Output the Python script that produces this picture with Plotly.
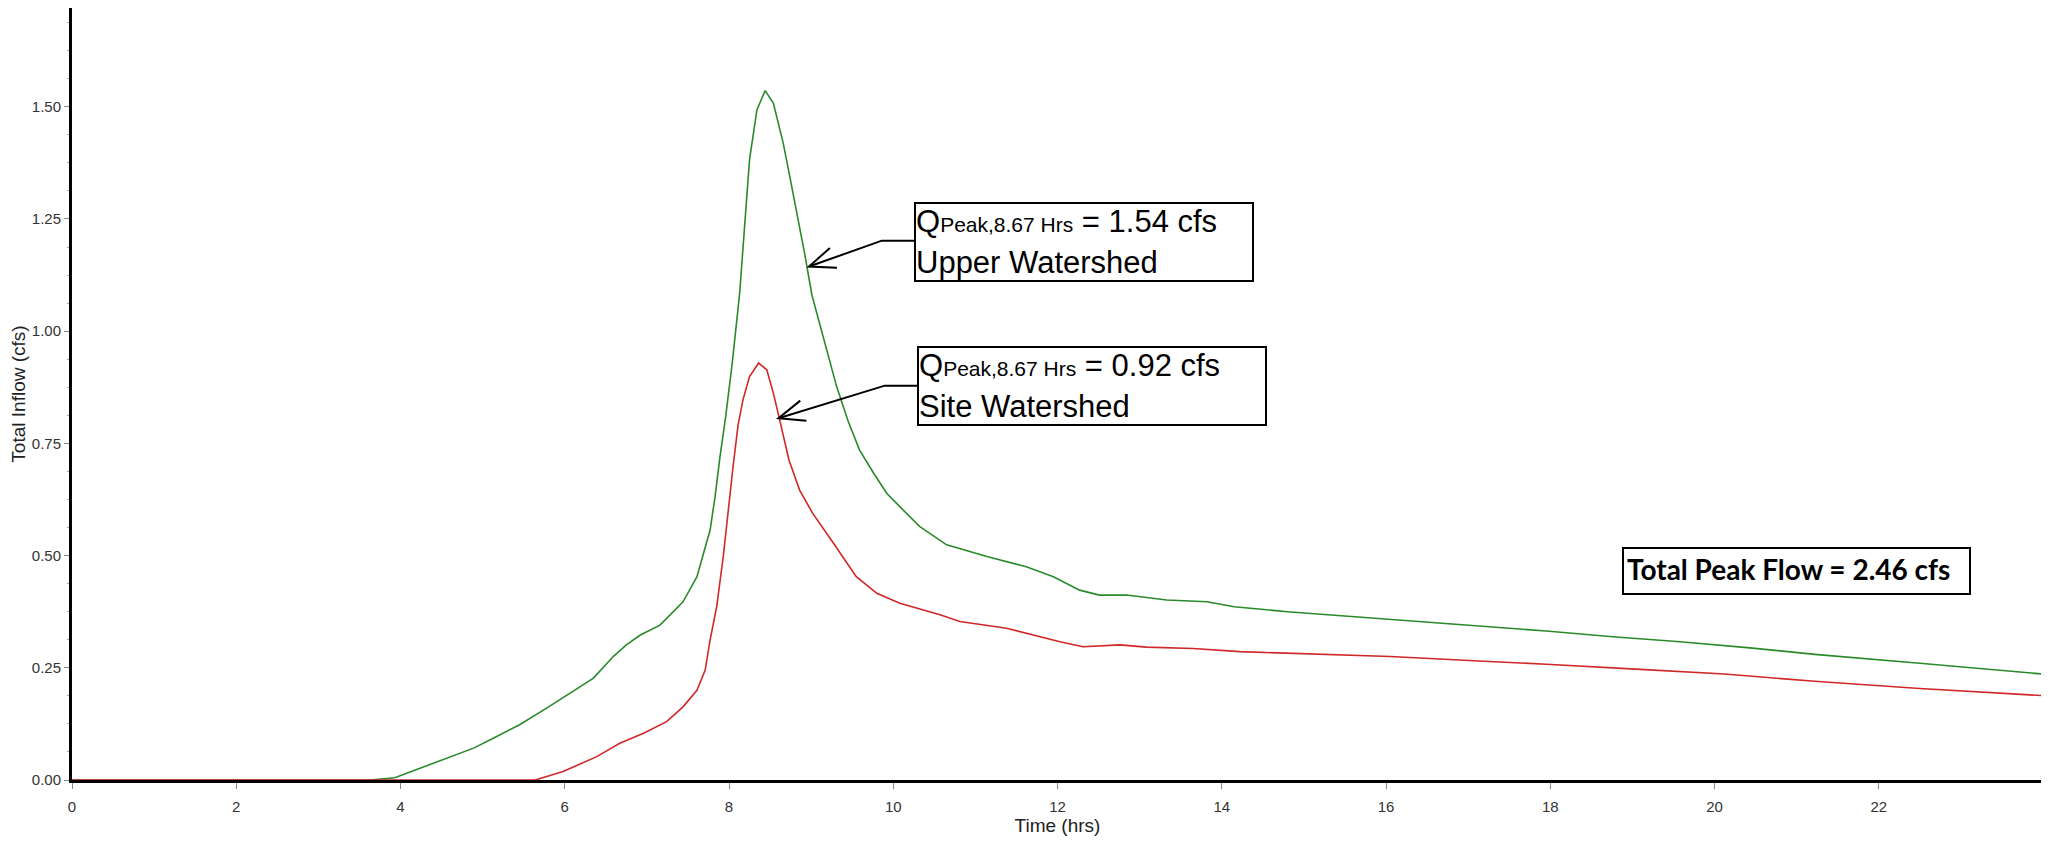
import math
import plotly.graph_objects as go

# ---------------- data ----------------
upper_time = [0.00, 3.63, 3.93, 4.24, 4.56, 4.89, 5.13, 5.45, 5.78, 6.06, 6.35, 6.59, 6.75, 6.92,
              7.16, 7.44, 7.61, 7.69, 7.77, 7.83, 7.89, 7.96, 8.04, 8.13, 8.19, 8.25, 8.34, 8.44,
              8.54, 8.66, 8.74, 8.82, 8.92, 9.01, 9.15, 9.31, 9.45, 9.59, 9.76, 9.92, 10.08, 10.32,
              10.65, 11.14, 11.62, 11.95, 12.27, 12.51, 12.84, 13.33, 13.82, 14.15, 14.80, 15.56,
              16.32, 17.13, 17.95, 18.76, 19.58, 20.40, 21.22, 22.50, 24.00]
upper_flow = [0.000, 0.000, 0.005, 0.026, 0.048, 0.071, 0.093, 0.123, 0.160, 0.193, 0.227, 0.275,
              0.301, 0.323, 0.345, 0.397, 0.453, 0.505, 0.557, 0.631, 0.720, 0.810, 0.930, 1.085,
              1.233, 1.382, 1.493, 1.536, 1.508, 1.419, 1.345, 1.270, 1.174, 1.080, 0.985, 0.877,
              0.800, 0.735, 0.684, 0.639, 0.609, 0.565, 0.524, 0.498, 0.475, 0.453, 0.423, 0.412,
              0.412, 0.401, 0.397, 0.386, 0.375, 0.365, 0.355, 0.343, 0.332, 0.319, 0.308, 0.295,
              0.280, 0.260, 0.236]

site_time = [0.00, 5.64, 5.98, 6.39, 6.67, 6.96, 7.24, 7.44, 7.61, 7.71, 7.77, 7.85, 7.93, 7.99,
             8.05, 8.11, 8.17, 8.25, 8.36, 8.46, 8.54, 8.62, 8.73, 8.86, 9.02, 9.27, 9.55, 9.80,
             10.08, 10.57, 10.81, 11.38, 12.03, 12.31, 12.76, 13.08, 13.65, 14.22, 14.96, 16.05,
             17.13, 17.95, 19.04, 20.12, 21.22, 22.50, 24.00]
site_flow = [0.000, 0.000, 0.019, 0.052, 0.082, 0.104, 0.130, 0.163, 0.200, 0.245, 0.312, 0.386,
             0.498, 0.602, 0.699, 0.790, 0.847, 0.899, 0.929, 0.914, 0.862, 0.800, 0.713, 0.646,
             0.594, 0.528, 0.453, 0.416, 0.394, 0.368, 0.353, 0.338, 0.308, 0.297, 0.301, 0.296,
             0.293, 0.286, 0.282, 0.275, 0.265, 0.258, 0.247, 0.236, 0.220, 0.204, 0.188]

x_ticks = [0, 2, 4, 6, 8, 10, 12, 14, 16, 18, 20, 22]
y_ticks = [0.00, 0.25, 0.50, 0.75, 1.00, 1.25, 1.50]

upper_label = "Q<span style='font-size:21px'>Peak,8.67 Hrs</span> = 1.54 cfs<br>Upper Watershed"
site_label = "Q<span style='font-size:21px'>Peak,8.67 Hrs</span> = 0.92 cfs<br>Site Watershed"
total_label = "<b>Total Peak Flow = 2.46 cfs</b>"

# ---------------- geometry ----------------
FIG_W, FIG_H = 2041, 838
M_L, M_R, M_T, M_B = 64, 6, 0, 66
X_MAX, Y_MAX = 24, 1.720
PXH = (FIG_W - M_L - M_R) / X_MAX
PXC = (FIG_H - M_T - M_B) / Y_MAX

TXT = "Liberation Sans, Arial, sans-serif"
fig = go.Figure()
fig.add_trace(go.Scatter(x=upper_time, y=upper_flow, mode="lines", name="Upper Watershed",
                         line=dict(color="#2a8a2a", width=1.6)))
fig.add_trace(go.Scatter(x=site_time, y=site_flow, mode="lines", name="Site Watershed",
                         line=dict(color="#d02828", width=1.6)))

# callout boxes
box_common = dict(xref="x", yref="y", xanchor="left", yanchor="top", showarrow=False,
                  align="left", valign="middle", bordercolor="black", borderwidth=2,
                  borderpad=0, bgcolor="white", font=dict(family=TXT, size=31, color="black"))
fig.add_annotation(x=10.253, y=1.2886, text=upper_label, width=336, height=76, **box_common)
fig.add_annotation(x=10.293, y=0.9677, text=site_label, width=346, height=76, **box_common)
fig.add_annotation(x=18.87, y=0.5198, text=total_label, xref="x", yref="y", xanchor="left",
                   yanchor="top", showarrow=False, align="left", valign="top",
                   bordercolor="black", borderwidth=2, borderpad=3, bgcolor="white",
                   width=339, height=38, font=dict(family="Lato, sans-serif", size=28, color="black"))

# leader lines with open arrowheads
for tip_x, tip_y, elb_x, elb_y, box_x in [(8.974, 1.144, 9.861, 1.2016, 10.253),
                                          (8.603, 0.806, 9.897, 0.8786, 10.293)]:
    fig.add_shape(type="path", xref="x", yref="y",
                  path=f"M {tip_x},{tip_y} L {elb_x},{elb_y} L {box_x},{elb_y}",
                  line=dict(color="black", width=2))
    ang = math.atan2((elb_y - tip_y) * PXC, (elb_x - tip_x) * PXH)
    arm, half = 28, math.radians(22)
    a1 = (arm * math.cos(ang + half), arm * math.sin(ang + half))
    a2 = (arm * math.cos(ang - half), arm * math.sin(ang - half))
    fig.add_shape(type="path", xref="x", yref="y", xsizemode="pixel", ysizemode="pixel",
                  xanchor=tip_x, yanchor=tip_y,
                  path=f"M {a1[0]:.2f},{a1[1]:.2f} L 0,0 L {a2[0]:.2f},{a2[1]:.2f}",
                  line=dict(color="black", width=2))

fig.update_layout(
    width=FIG_W, height=FIG_H,
    margin=dict(l=M_L, r=M_R, t=M_T, b=M_B),
    paper_bgcolor="white", plot_bgcolor="white",
    showlegend=False,
    font=dict(family=TXT, color="#222"),
    xaxis=dict(range=[0, X_MAX], tickvals=x_ticks, ticktext=[str(v) for v in x_ticks],
               showgrid=False, zeroline=False, showline=True, linecolor="black", linewidth=3,
               ticks="outside", ticklen=6, tickcolor="#888", tickwidth=1, automargin=False,
               ticklabelstandoff=5,
               tickfont=dict(size=15, color="#333"),
               title=dict(text="Time (hrs)", font=dict(size=19, color="#222"), standoff=4)),
    yaxis=dict(range=[0, Y_MAX], tickvals=y_ticks, ticktext=[f"{v:.2f}" for v in y_ticks],
               showgrid=False, zeroline=False, showline=True, linecolor="black", linewidth=3,
               ticks="outside", ticklen=5, tickcolor="#888", tickwidth=1, automargin=False,
               minor=dict(dtick=0.0625, ticks="outside", ticklen=2, tickcolor="#aaa"),
               tickfont=dict(size=15, color="#333"),
               title=dict(text="Total Inflow (cfs)", font=dict(size=19, color="#222"), standoff=20)),
)

fig.write_html("out.html")
